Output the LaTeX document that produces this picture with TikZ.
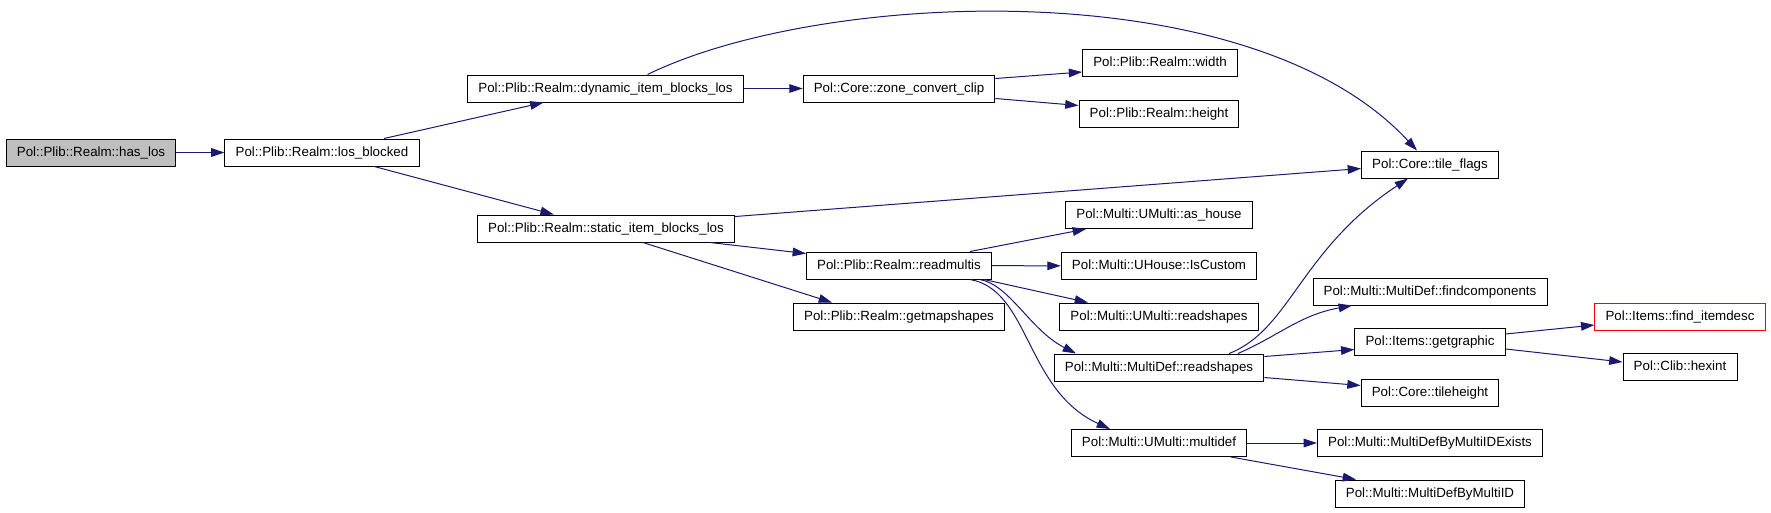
\documentclass[tikz,border=0pt]{standalone}
\usepackage{fontspec}
\setmainfont{Liberation Sans}
\usetikzlibrary{arrows.meta}
\usetikzlibrary{calc}

\definecolor{edgeblue}{HTML}{191970}
\definecolor{rootgray}{HTML}{BFBFBF}

\begin{document}
\begin{tikzpicture}[x=0.75pt, y=-0.75pt,
    fn/.style={draw, fill=white, line width=0.75pt, font=\fontsize{10}{12}\selectfont,
      inner xsep=8pt, inner ysep=0pt, minimum height=20.25pt, text height=7.4pt, text depth=2.1pt},
    call/.style={edgeblue, line width=0.75pt, -{Triangle[length=10pt,width=6.5pt]}}]
			\useasboundingbox (0,0) rectangle (1771,512);
			% nodes, column by column
			\node[fn, fill=rootgray] (haslos) at (91,152.5) {Pol::Plib::Realm::has\_los};
			\node[fn] (losblocked) at (322,152.5) {Pol::Plib::Realm::los\_blocked};
			\node[fn] (dynblocks) at (605.5,88.5) {Pol::Plib::Realm::dynamic\_item\_blocks\_los};
			\node[fn] (staticblocks) at (606,228.5) {Pol::Plib::Realm::static\_item\_blocks\_los};
			\node[fn] (zoneclip) at (899,88.5) {Pol::Core::zone\_convert\_clip};
			\node[fn] (readmultis) at (899,265.5) {Pol::Plib::Realm::readmultis};
			\node[fn] (getmapshapes) at (899,316.5) {Pol::Plib::Realm::getmapshapes};
			\node[fn] (rwidth) at (1160,63) {Pol::Plib::Realm::width};
			\node[fn] (rheight) at (1159,113.5) {Pol::Plib::Realm::height};
			\node[fn] (ashouse) at (1159,215) {Pol::Multi::UMulti::as\_house};
			\node[fn] (iscustom) at (1159,266) {Pol::Multi::UHouse::IsCustom};
			\node[fn] (umreadshapes) at (1159,316.5) {Pol::Multi::UMulti::readshapes};
			\node[fn] (mdreadshapes) at (1159,367.5) {Pol::Multi::MultiDef::readshapes};
			\node[fn] (multidef) at (1159,443) {Pol::Multi::UMulti::multidef};
			\node[fn] (tileflags) at (1430,164.5) {Pol::Core::tile\_flags};
			\node[fn] (findcomp) at (1430,291.5) {Pol::Multi::MultiDef::findcomponents};
			\node[fn] (getgraphic) at (1430,341.5) {Pol::Items::getgraphic};
			\node[fn] (tileheight) at (1430,392.5) {Pol::Core::tileheight};
			\node[fn] (mdexists) at (1430,443) {Pol::Multi::MultiDefByMultiIDExists};
			\node[fn] (mdbyid) at (1430,493.5) {Pol::Multi::MultiDefByMultiID};
			\node[fn, draw=red] (finditemdesc) at (1680,316.5) {Pol::Items::find\_itemdesc};
			\node[fn] (hexint) at (1680,367) {Pol::Clib::hexint};

			% calls
			\draw[call] (haslos) -- (losblocked);
			\draw[call] (losblocked) -- (dynblocks);
			\draw[call] (losblocked) -- (staticblocks);
			\draw[call] (dynblocks) -- (zoneclip);
			\draw[call] ($(dynblocks.north)+(42,0)$) .. controls (820,-10) and (1250,-30) .. ($(tileflags.north)+(-13,0)$);
			\draw[call] ($(zoneclip.east)+(0,-10)$) -- ($(rwidth.west)+(0,9)$);
			\draw[call] ($(zoneclip.east)+(0,10)$) -- ($(rheight.west)+(0,-8)$);
			\draw[call] ($(staticblocks.east)+(0,-12)$) -- ($(tileflags.west)+(0,4)$);
			\draw[call] ($(staticblocks.south)+(104,0)$) -- ($(readmultis.west)+(0,-12)$);
			\draw[call] ($(staticblocks.south)+(37,0)$) -- ($(getmapshapes.north)+(-67,0)$);
			\draw[call] ($(readmultis.north)+(71,0)$) -- ($(ashouse.south)+(-73,0)$);
			\draw[call] (readmultis) -- (iscustom);
			\draw[call] ($(readmultis.south east)+(-8,0)$) -- ($(umreadshapes.north)+(-71,0)$);
			\draw[call] ($(readmultis.south)+(81,0)$) .. controls (1010,285) and (1030,330) .. ($(mdreadshapes.north)+(-83,0)$);
			\draw[call] ($(readmultis.south)+(71,0)$) .. controls (1030,290) and (1025,390) .. ($(multidef.north)+(-49,0)$);
			\draw[call] ($(mdreadshapes.north)+(70,0)$) .. controls (1290,330) and (1300,250) .. ($(tileflags.south)+(-22,0)$);
			\draw[call] ($(mdreadshapes.north)+(79,0)$) .. controls (1280,335) and (1300,315) .. ($(findcomp.south)+(-78,0)$);
			\draw[call] ($(mdreadshapes.east)+(0,-11)$) -- ($(getgraphic.west)+(0,8)$);
			\draw[call] ($(mdreadshapes.east)+(0,10)$) -- ($(tileheight.west)+(0,-7)$);
			\draw[call] ($(getgraphic.east)+(0,-7.5)$) -- ($(finditemdesc.west)+(0,8.5)$);
			\draw[call] ($(getgraphic.east)+(0,7.5)$) -- ($(hexint.west)+(0,-5)$);
			\draw[call] (multidef) -- (mdexists);
			\draw[call] ($(multidef.south)+(72,0)$) -- ($(mdbyid.north)+(-74,0)$);

		\end{tikzpicture}
\end{document}
